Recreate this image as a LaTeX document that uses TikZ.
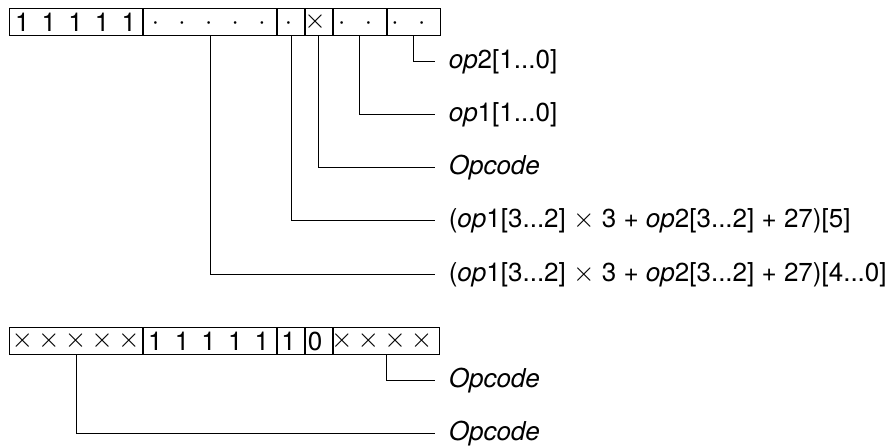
\documentclass[tikz,border=0pt]{standalone}
\usepackage{fontspec}
\setmainfont{TeX Gyre Heros}

\def\bw{26.625}
\tikzset{every picture/.style={line width=0.75pt}}
\tikzset{
field/.style={draw, rectangle, minimum width=#1*19.97pt, minimum height=20.25pt, inner sep=0pt, anchor=north west},
bit/.style={inner sep=0pt, font=\fontsize{19.5}{24}\selectfont},
lbl/.style={anchor=west, inner xsep=10pt, inner ysep=0pt, font=\fontsize{19.5}{24}\selectfont}}

\begin{document}
\begin{tikzpicture}[x=0.75pt,y=0.75pt,yscale=-1,xscale=1]
\useasboundingbox (0,0) rectangle (890,448);

% Upper word: fields
\node[field=5] (t1) at (9,8) {};
\node[field=5] (t2) at (t1.north east) {};
\node[field=1] (t3) at (t2.north east) {};
\node[field=1] (t4) at (t3.north east) {};
\node[field=2] (t5) at (t4.north east) {};
\node[field=2] (t6) at (t5.north east) {};

% Upper word: bits
\foreach \i in {0,...,4}
  \node[bit] (ta\i) at ({9+(\i+0.5)*\bw},22) {1};
\foreach \i in {5,...,10,12,13,14,15}
  \node[bit] (ta\i) at ({9+(\i+0.5)*\bw},20.5) {\vphantom{1}·};
\node[bit] (ta11) at ({9+11.5*\bw},22) {$\times$};

% Upper word: labels
\node[lbl] (l1) at (435,62) {\textit{op}2[1...0]};
\node[lbl] (l2) at (435,115) {\textit{op}1[1...0]};
\node[lbl] (l3) at (435,168) {\textit{Opcode}};
\node[lbl] (l4) at (435,221) {(\textit{op}1[3...2] $\times$ 3 + \textit{op}2[3...2] + 27)[5]};
\node[lbl] (l5) at (435,275) {(\textit{op}1[3...2] $\times$ 3 + \textit{op}2[3...2] + 27)[4...0]};

\draw (t6.south) |- (l1.west);
\draw (t5.south) |- (l2.west);
\draw (t4.south) |- (l3.west);
\draw (t3.south) |- (l4.west);
\draw (t2.south) |- (l5.west);

% Lower word: fields
\node[field=5] (b1) at (9,327) {};
\node[field=5] (b2) at (b1.north east) {};
\node[field=1] (b3) at (b2.north east) {};
\node[field=1] (b4) at (b3.north east) {};
\node[field=4] (b5) at (b4.north east) {};

% Lower word: bits
\foreach \i in {0,...,4,12,13,14,15}
  \node[bit] (bb\i) at ({9+(\i+0.5)*\bw},341) {$\times$};
\foreach \i in {5,...,10}
  \node[bit] (bb\i) at ({9+(\i+0.5)*\bw},341) {1};
\node[bit] (bb11) at ({9+11.5*\bw},341) {0};

% Lower word: labels
\node[lbl] (m1) at (435,381) {\textit{Opcode}};
\node[lbl] (m2) at (435,434) {\textit{Opcode}};

\draw (b5.south) |- (m1.west);
\draw (b1.south) |- (m2.west);

\end{tikzpicture}
\end{document}
